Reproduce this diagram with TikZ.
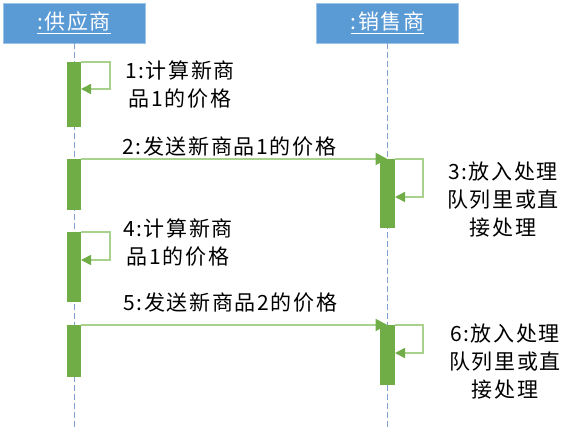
\documentclass[tikz,border=0pt]{standalone}
\usepackage{fontspec}
\setmainfont{Noto Sans CJK SC}[LetterSpace=8]
\usepackage{tikz}
\usetikzlibrary{arrows.meta}
\definecolor{headblue}{HTML}{5B9BD5}
\definecolor{bargreen}{HTML}{70AD47}
\definecolor{msggreen}{HTML}{A9D18E}
\definecolor{lifeblue}{HTML}{7F9FCF}

\begin{document}
\begin{tikzpicture}[x=1pt,y=-1pt,
    head/.style={fill=headblue,draw=headblue!60!white,minimum width=142pt,minimum height=40pt,inner sep=0pt,text=white,font=\fontsize{21}{24}\selectfont},
    actbar/.style={fill=bargreen,minimum width=14pt,inner sep=0pt,outer sep=0pt},
    lifeline/.style={draw=lifeblue,dash pattern=on 6pt off 3pt,line width=0.8pt},
    msg/.style={draw=msggreen,line width=2pt,-{Triangle[length=12pt,width=12pt,color=bargreen]}},
    selfmsg/.style={draw=msggreen,line width=1.6pt,-{Triangle[length=10pt,width=10pt,color=bargreen]}},
    note/.style={align=center,font=\fontsize{21}{28}\selectfont,inner sep=0pt}]
    \useasboundingbox (0,0) rectangle (576,436);
                     % heads
    \node[head] (sup) at (74,23) {\underline{:供应商}}; % supplier
    \node[head] (sel) at (387.5,23) {\underline{:销售商}}; % seller
    \coordinate (supend) at (74,428);
    \coordinate (selend) at (387.5,428);
    \draw[lifeline] (sup.south) -- (supend); % lifelines
    \draw[lifeline] (sel.south) -- (selend);
                     % activation bars
    \node[actbar,minimum height=65pt] (b1) at (74,94.5) {};
    \node[actbar,minimum height=51pt] (b2) at (74,184.5) {};
    \node[actbar,minimum height=70pt] (b3) at (74,267) {};
    \node[actbar,minimum height=52pt] (b4) at (74,351) {};
    \node[actbar,minimum width=15pt,minimum height=69pt] (r1) at (387.5,193.5) {};
    \node[actbar,minimum width=15pt,minimum height=60pt] (r2) at (387.5,355) {};
                     % messages
    \draw[selfmsg] (b1.north east) -- ++(29,0) -- ++(0,27) -- ++(-29,0);
    \draw[msg] (b2.north east) -- (r1.north);
    \draw[selfmsg] (r1.north east) -- ++(28,0) -- ++(0,38) -- ++(-28,0);
    \draw[selfmsg] (b3.north east) -- ++(29,0) -- ++(0,28) -- ++(-29,0);
    \draw[msg] (b4.north east) -- (r2.north);
    \draw[selfmsg] (r2.north east) -- ++(28,0) -- ++(0,28) -- ++(-28,0);
                     % labels
    \node[note] (n1) at (180,84.5) {1:计算新商\\品1的价格};
    \node[note,anchor=west] (n2) at (122,147) {2:发送新商品1的价格};
    \node[note] (n3) at (503,199.5) {3:放入处理\\队列里或直\\接处理};
    \node[note] (n4) at (178,243) {4:计算新商\\品1的价格};
    \node[note,anchor=west] (n5) at (123,303) {5:发送新商品2的价格};
    \node[note] (n6) at (505,362) {6:放入处理\\队列里或直\\接处理};
\end{tikzpicture}
\end{document}
